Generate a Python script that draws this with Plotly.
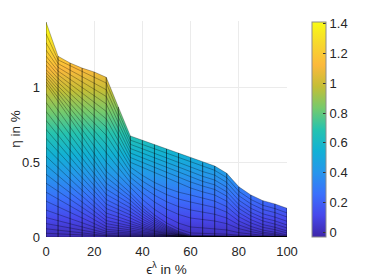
import plotly.graph_objects as go

# ---------------- data ----------------
eps_pct = [0, 5, 10, 15, 20, 25, 30, 35, 40, 45, 50, 55, 60, 65, 70, 75, 80, 85, 90, 95, 100]

# upper edge of the surface (eta in %) and the mesh rows below it
eta_top = [1.438, 1.209, 1.164, 1.130, 1.104, 1.068, 0.870, 0.676, 0.647, 0.618, 0.589,
           0.562, 0.530, 0.500, 0.475, 0.426, 0.336, 0.281, 0.243, 0.221, 0.192]
eta_f01 = [1.36, 1.185, 1.146, 1.108, 1.069, 1.03, 0.839, 0.648, 0.619, 0.590, 0.560,
           0.531, 0.502, 0.472, 0.446, 0.397, 0.306, 0.251, 0.212, 0.190, 0.161]
eta_f02 = [1.30, 1.16, 1.116, 1.073, 1.029, 0.985, 0.803, 0.62, 0.590, 0.559, 0.529,
           0.498, 0.468, 0.438, 0.414, 0.365, 0.276, 0.222, 0.184, 0.163, 0.134]
eta_f03 = [1.25, 1.135, 1.086, 1.038, 0.989, 0.94, 0.766, 0.592, 0.561, 0.529, 0.498,
           0.466, 0.435, 0.406, 0.381, 0.333, 0.246, 0.192, 0.155, 0.133, 0.105]
eta_f04 = [1.21, 1.11, 1.055, 1.0, 0.945, 0.89, 0.726, 0.562, 0.530, 0.498, 0.465,
           0.433, 0.401, 0.372, 0.349, 0.302, 0.217, 0.164, 0.128, 0.108, 0.080]
eta_f05 = [1.18, 1.085, 1.024, 0.963, 0.901, 0.84, 0.686, 0.532, 0.499, 0.466, 0.434,
           0.401, 0.368, 0.341, 0.318, 0.273, 0.191, 0.141, 0.107, 0.086, 0.060]
eta_f06 = [1.15, 1.06, 0.993, 0.925, 0.858, 0.79, 0.645, 0.50, 0.466, 0.431, 0.397,
           0.362, 0.328, 0.302, 0.281, 0.239, 0.163, 0.116, 0.083, 0.065, 0.040]
eta_f07 = [1.12, 1.035, 0.96, 0.885, 0.81, 0.735, 0.602, 0.468, 0.412, 0.365, 0.328,
           0.300, 0.281, 0.258, 0.240, 0.203, 0.135, 0.094, 0.065, 0.049, 0.027]
eta_f08 = [1.10, 1.01, 0.928, 0.845, 0.763, 0.68, 0.557, 0.434, 0.374, 0.324, 0.284,
           0.254, 0.234, 0.214, 0.198, 0.166, 0.107, 0.071, 0.046, 0.032, 0.013]
eta_f09 = [1.08, 0.985, 0.894, 0.803, 0.711, 0.62, 0.51, 0.40, 0.334, 0.280, 0.236,
           0.203, 0.181, 0.165, 0.152, 0.127, 0.081, 0.052, 0.032, 0.021, 0.006]
eta_f10 = [1.06, 0.96, 0.86, 0.76, 0.66, 0.56, 0.463, 0.365, 0.294, 0.234, 0.187,
           0.151, 0.127, 0.116, 0.107, 0.089, 0.056, 0.036, 0.022, 0.014, 0.003]
eta_f11 = [1.04, 0.935, 0.826, 0.718, 0.609, 0.50, 0.415, 0.33, 0.251, 0.185, 0.133,
           0.093, 0.067, 0.061, 0.056, 0.047, 0.029, 0.018, 0.011, 0.007, 0.001]
eta_f12 = [1.02, 0.91, 0.793, 0.675, 0.558, 0.44, 0.368, 0.295, 0.215, 0.148, 0.094,
           0.054, 0.027, 0.025, 0.023, 0.019, 0.012, 0.007, 0.004, 0.002, 0.0]
eta_m01 = [0.96, 0.848, 0.736, 0.624, 0.512, 0.40, 0.335, 0.27, 0.193, 0.128, 0.076,
           0.038, 0.012, 0.011, 0.010, 0.008, 0.005, 0.003, 0.002, 0.001, 0.0]
eta_m02 = [0.90, 0.792, 0.684, 0.576, 0.468, 0.36, 0.303, 0.245, 0.174, 0.115, 0.067,
           0.032, 0.008, 0.007, 0.007, 0.006, 0.003, 0.002, 0.001, 0.001, 0.0]
eta_m03 = [0.84, 0.736, 0.632, 0.528, 0.424, 0.32, 0.27, 0.22, 0.155, 0.102, 0.059,
           0.026, 0.005, 0.005, 0.004, 0.003, 0.002, 0.001, 0.001, 0.0, 0.0]
eta_m04 = [0.78, 0.681, 0.582, 0.483, 0.384, 0.285, 0.24, 0.195, 0.137, 0.089, 0.051,
           0.022, 0.003, 0.003, 0.002, 0.002, 0.001, 0.001, 0.0, 0.0, 0.0]
eta_m05 = [0.72, 0.626, 0.532, 0.438, 0.344, 0.25, 0.21, 0.17, 0.120, 0.078, 0.044,
           0.019, 0.002, 0.002, 0.002, 0.001, 0.001, 0.0, 0.0, 0.0, 0.0]
eta_m06 = [0.66, 0.572, 0.484, 0.396, 0.308, 0.22, 0.184, 0.148, 0.104, 0.067, 0.038,
           0.016, 0.001, 0.001, 0.001, 0.001, 0.0, 0.0, 0.0, 0.0, 0.0]
eta_m07 = [0.60, 0.518, 0.436, 0.354, 0.272, 0.19, 0.159, 0.127, 0.089, 0.057, 0.032,
           0.013, 0.0, 0.0, 0.0, 0.0, 0.0, 0.0, 0.0, 0.0, 0.0]
eta_m08 = [0.54, 0.464, 0.388, 0.312, 0.236, 0.16, 0.134, 0.107, 0.075, 0.048, 0.027,
           0.011, 0.0, 0.0, 0.0, 0.0, 0.0, 0.0, 0.0, 0.0, 0.0]
eta_m09 = [0.48, 0.411, 0.342, 0.273, 0.204, 0.135, 0.113, 0.09, 0.063, 0.041, 0.023,
           0.009, 0.0, 0.0, 0.0, 0.0, 0.0, 0.0, 0.0, 0.0, 0.0]
eta_m10 = [0.42, 0.358, 0.296, 0.234, 0.172, 0.11, 0.092, 0.074, 0.052, 0.033, 0.019,
           0.007, 0.0, 0.0, 0.0, 0.0, 0.0, 0.0, 0.0, 0.0, 0.0]
eta_m11 = [0.36, 0.306, 0.252, 0.198, 0.144, 0.09, 0.075, 0.06, 0.042, 0.027, 0.015,
           0.006, 0.0, 0.0, 0.0, 0.0, 0.0, 0.0, 0.0, 0.0, 0.0]
eta_m12 = [0.30, 0.254, 0.208, 0.162, 0.116, 0.07, 0.059, 0.047, 0.033, 0.021, 0.012,
           0.005, 0.0, 0.0, 0.0, 0.0, 0.0, 0.0, 0.0, 0.0, 0.0]
eta_l01 = [0.24, 0.202, 0.165, 0.127, 0.090, 0.052, 0.044, 0.036, 0.025, 0.016, 0.009,
           0.004, 0.0, 0.0, 0.0, 0.0, 0.0, 0.0, 0.0, 0.0, 0.0]
eta_l02 = [0.18, 0.152, 0.123, 0.095, 0.066, 0.038, 0.032, 0.026, 0.018, 0.011, 0.006,
           0.003, 0.0, 0.0, 0.0, 0.0, 0.0, 0.0, 0.0, 0.0, 0.0]
eta_l03 = [0.13, 0.109, 0.088, 0.068, 0.047, 0.026, 0.022, 0.018, 0.012, 0.008, 0.004,
           0.002, 0.0, 0.0, 0.0, 0.0, 0.0, 0.0, 0.0, 0.0, 0.0]
eta_l04 = [0.09, 0.075, 0.060, 0.046, 0.031, 0.016, 0.013, 0.011, 0.007, 0.005, 0.003,
           0.001, 0.0, 0.0, 0.0, 0.0, 0.0, 0.0, 0.0, 0.0, 0.0]
eta_l05 = [0.055, 0.046, 0.037, 0.028, 0.018, 0.009, 0.008, 0.006, 0.004, 0.003, 0.002,
           0.001, 0.0, 0.0, 0.0, 0.0, 0.0, 0.0, 0.0, 0.0, 0.0]
eta_l06 = [0.025, 0.021, 0.017, 0.012, 0.008, 0.004, 0.003, 0.003, 0.002, 0.001, 0.001,
           0.0, 0.0, 0.0, 0.0, 0.0, 0.0, 0.0, 0.0, 0.0, 0.0]
eta_bot = [0.0] * 21

x_ticks = [0, 20, 40, 60, 80, 100]
y_ticks = [0, 0.5, 1]
y_tick_text = ["0", "0.5", "1"]
cbar_ticks = [0, 0.2, 0.4, 0.6, 0.8, 1.0, 1.2, 1.4]
cbar_tick_text = ["0", "0.2", "0.4", "0.6", "0.8", "1", "1.2", "1.4"]
c_min, c_max = -0.027, 1.413

parula = [
    [0.0, "rgb(62,38,168)"],
    [0.1, "rgb(71,71,235)"],
    [0.2, "rgb(58,112,252)"],
    [0.3, "rgb(38,150,236)"],
    [0.4, "rgb(18,177,213)"],
    [0.5, "rgb(38,195,175)"],
    [0.6, "rgb(118,202,108)"],
    [0.7, "rgb(196,190,54)"],
    [0.8, "rgb(252,185,60)"],
    [0.9, "rgb(247,216,45)"],
    [1.0, "rgb(249,251,20)"],
]

rows = [eta_top, eta_f01, eta_f02, eta_f03, eta_f04, eta_f05, eta_f06, eta_f07, eta_f08,
        eta_f09, eta_f10, eta_f11, eta_f12, eta_m01, eta_m02, eta_m03, eta_m04, eta_m05,
        eta_m06, eta_m07, eta_m08, eta_m09, eta_m10, eta_m11, eta_m12, eta_l01, eta_l02,
        eta_l03, eta_l04, eta_l05, eta_l06, eta_bot]

FONT = "Liberation Sans, Arial, sans-serif"

# ---------------- figure ----------------
fig = go.Figure()

# filled surface (colour follows eta)
poly_x = eps_pct + eps_pct[::-1]
poly_y = eta_top + eta_bot[::-1]
fig.add_trace(go.Scatter(
    x=poly_x, y=poly_y, mode="lines", fill="toself",
    line=dict(width=0, color="rgba(0,0,0,0)"),
    fillgradient=dict(type="vertical", colorscale=parula, start=c_min, stop=c_max),
    hoverinfo="skip", showlegend=False))

# mesh rows
mx, my = [], []
for r in rows:
    mx += eps_pct + [None]
    my += r + [None]
fig.add_trace(go.Scatter(x=mx, y=my, mode="lines",
                         line=dict(color="rgba(0,0,0,0.5)", width=0.6),
                         hoverinfo="skip", showlegend=False))
# mesh columns
cx, cy = [], []
for xv, tv in zip(eps_pct, eta_top):
    cx += [xv, xv, None]
    cy += [0, tv, None]
fig.add_trace(go.Scatter(x=cx, y=cy, mode="lines",
                         line=dict(color="rgba(0,0,0,0.7)", width=0.8),
                         hoverinfo="skip", showlegend=False))

# colour bar
fig.add_trace(go.Scatter(
    x=[None], y=[None], mode="markers", showlegend=False, hoverinfo="skip",
    marker=dict(colorscale=parula, cmin=c_min, cmax=c_max, color=[c_min], showscale=True,
                colorbar=dict(x=1.104, xanchor="left", xpad=0, ypad=0, y=0.5, yanchor="middle",
                              len=0.995, lenmode="fraction", thickness=14,
                              outlinecolor="#8c8c8c", outlinewidth=1,
                              tickvals=cbar_ticks, ticktext=cbar_tick_text,
                              ticks="inside", ticklen=3, tickcolor="#333333",
                              tickfont=dict(size=13, color="#262626", family=FONT)))))

# the page body adds an 8 px offset, so the figure is 366 x 272
fig.update_layout(
    width=366, height=272,
    margin=dict(l=38, r=87, t=13, b=43, autoexpand=False),
    paper_bgcolor="white", plot_bgcolor="white",
    font=dict(family=FONT, size=13, color="#262626"),
    xaxis=dict(range=[0, 100], tickvals=x_ticks, showgrid=True, gridcolor="#ebebeb",
               zeroline=False, showline=False, ticks="", ticklabelstandoff=5,
               tickfont=dict(size=13),
               title=dict(text="ϵ<sup>λ</sup> in %", standoff=3, font=dict(size=13.5))),
    yaxis=dict(range=[0, 1.445], tickvals=y_ticks, ticktext=y_tick_text, showgrid=True,
               gridcolor="#ebebeb", zeroline=False, showline=False, ticks="",
               ticklabelstandoff=5, tickfont=dict(size=13),
               title=dict(text="η in %", standoff=9, font=dict(size=13.5))),
)

fig.write_html("out.html")
